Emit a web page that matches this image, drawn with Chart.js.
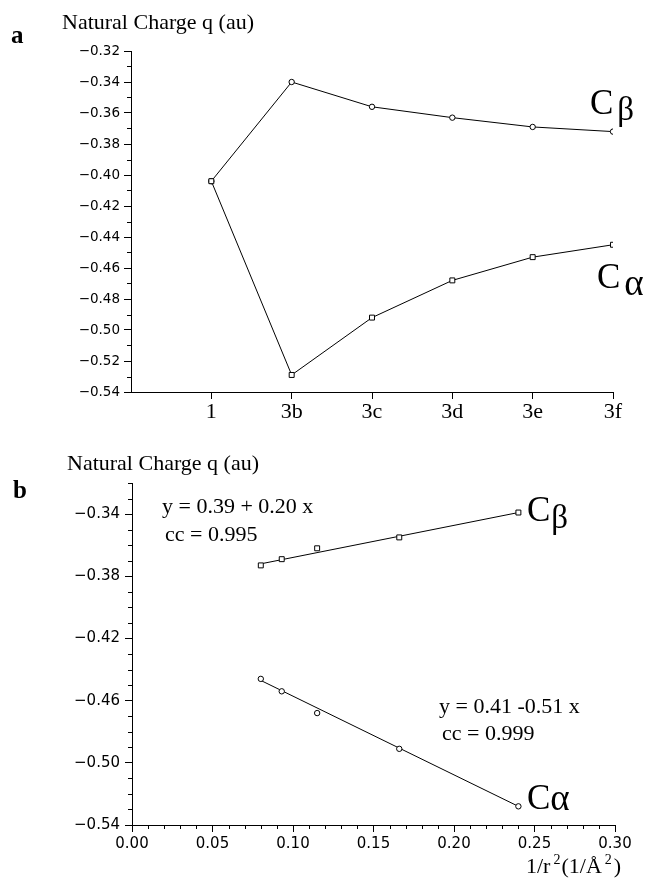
<!DOCTYPE html>
<html>
<head>
<meta charset="utf-8">
<script src="https://cdn.jsdelivr.net/npm/chart.js@4.4.1/dist/chart.umd.min.js"></script>
<style>
  html, body { margin: 0; padding: 0; background: #fff; }
  #wrap { position: relative; width: 647px; height: 882px; }
  canvas { position: absolute; left: 0; }
  #chartA { top: 0; }
  #chartB { top: 430px; }
</style>
</head>
<body>
<div id="wrap">
  <canvas id="chartA" width="647" height="430"></canvas>
  <canvas id="chartB" width="647" height="452"></canvas>
</div>
<script>
// panel a: charge vs compound
const compoundsA = ["1", "3b", "3c", "3d", "3e", "3f"];
const cBetaA = [-0.404, -0.340, -0.356, -0.363, -0.369, -0.372];
const cAlphaA = [-0.404, -0.529, -0.492, -0.468, -0.453, -0.445];

// panel b: charge vs 1/r^2
const invR2B = [0.080, 0.093, 0.115, 0.166, 0.240];
const cBetaB = [-0.373, -0.369, -0.362, -0.355, -0.339];
const cAlphaB = [-0.446, -0.454, -0.468, -0.491, -0.528];
// regression lines (end points)
const fitX = [0.080, 0.240];
const fitBeta = [-0.372, -0.339];
const fitAlpha = [-0.447, -0.528];

const SERIF = "'Liberation Serif', 'Times New Roman', serif";
const SANS = "'DejaVu Sans', Verdana, sans-serif";

const toPts = (xs, ys) => ys.map((y, i) => ({ x: xs[i], y: y }));
const minus = (v, d) => (v < 0 ? "\u2212" : "") + Math.abs(v).toFixed(d);

// short ticks for unlabeled steps
const minorTicks = {
  id: "minorTicks",
  afterDraw(chart, args, opts) {
    const ctx = chart.ctx;
    ctx.save();
    ctx.strokeStyle = "#000";
    ctx.lineWidth = 1;
    ["x", "y"].forEach((id) => {
      const s = chart.scales[id];
      const len = opts[id];
      if (!len) return;
      s.ticks.forEach((t) => {
        if (t.label !== "") return;
        const p = Math.round(s.getPixelForValue(t.value)) + 0.5;
        ctx.beginPath();
        if (id === "y") {
          ctx.moveTo(s.right - len, p);
          ctx.lineTo(s.right, p);
        } else {
          ctx.moveTo(p, s.top);
          ctx.lineTo(p, s.top + len);
        }
        ctx.stroke();
      });
    });
    ctx.restore();
  },
};

// free texts; each item is a list of runs drawn one after another
const texts = {
  id: "texts",
  afterDraw(chart, args, opts) {
    const ctx = chart.ctx;
    ctx.save();
    ctx.fillStyle = "#000";
    ctx.textBaseline = "alphabetic";
    (opts.items || []).forEach((item) => {
      let x = item.x;
      item.runs.forEach((r) => {
        ctx.font = r.font;
        ctx.fillText(r.t, x + (r.dx || 0), item.y + (r.dy || 0));
        x += ctx.measureText(r.t).width + (r.dx || 0);
      });
    });
    ctx.restore();
  },
};

function axisCommon(extra) {
  return Object.assign(
    {
      type: "linear",
      border: { display: true, color: "#000", width: 1 },
      grid: {
        drawOnChartArea: false,
        drawTicks: true,
        tickLength: 7,
        tickWidth: 1,
        tickColor: (c) => (c.tick && c.tick.label !== "" ? "#000" : "rgba(0,0,0,0)"),
      },
    },
    extra
  );
}

const lineDs = (label, data, style, radius) => ({
  label: label,
  data: data,
  showLine: true,
  borderColor: "#000",
  borderWidth: 1,
  pointStyle: style,
  pointRadius: radius,
  pointBorderWidth: 1,
  pointBorderColor: "#000",
  pointBackgroundColor: "#fff",
});

// ---- panel a ----
new Chart(document.getElementById("chartA"), {
  type: "scatter",
  data: {
    datasets: [
      Object.assign(lineDs("C\u03b1", toPts([1, 2, 3, 4, 5, 6], cAlphaA), "rect", 3.5), { order: 0 }),
      Object.assign(lineDs("C\u03b2", toPts([1, 2, 3, 4, 5, 6], cBetaA), "circle", 2.7), { order: 1 }),
    ],
  },
  plugins: [minorTicks, texts],
  options: {
    responsive: false,
    animation: false,
    layout: { padding: { left: 0, top: 51, right: 34, bottom: 0 } },
    scales: {
      x: axisCommon({
        min: 0,
        max: 6,
        afterFit: (s) => { s.height = 38; },
        ticks: {
          stepSize: 1,
          autoSkip: false,
          maxRotation: 0,
          padding: 0,
          color: "#000",
          font: { family: SERIF, size: 22 },
          callback: (v) => (v >= 1 && v <= 6 ? compoundsA[v - 1] : ""),
        },
      }),
      y: axisCommon({
        min: -0.54,
        max: -0.32,
        afterFit: (s) => { s.width = 131; },
        ticks: {
          stepSize: 0.01,
          autoSkip: false,
          padding: 4,
          color: "#000",
          font: { family: SANS, size: 13.5 },
          callback: (v) => (Math.round((v + 0.54) * 100) % 2 === 0 ? minus(v, 2) : ""),
        },
      }),
    },
    plugins: {
      legend: { display: false },
      tooltip: { enabled: false },
      minorTicks: { x: 0, y: 4 },
      texts: {
        items: [
          { x: 62, y: 29, runs: [{ t: "Natural Charge q (au)", font: "22px " + SERIF }] },
          { x: 11, y: 43, runs: [{ t: "a", font: "bold 25px " + SERIF }] },
          { x: 590, y: 114, runs: [{ t: "C", font: "35px " + SERIF }, { t: "\u03b2", font: "33px " + SERIF, dx: 4, dy: 6 }] },
          { x: 597, y: 288, runs: [{ t: "C", font: "35px " + SERIF }, { t: "\u03b1", font: "37px " + SERIF, dx: 4, dy: 7 }] },
        ],
      },
    },
  },
});

// ---- panel b ----
new Chart(document.getElementById("chartB"), {
  type: "scatter",
  data: {
    datasets: [
      Object.assign(lineDs("C\u03b2", toPts(invR2B, cBetaB), "rect", 3.5), { showLine: false }),
      Object.assign(lineDs("C\u03b1", toPts(invR2B, cAlphaB), "circle", 2.7), { showLine: false }),
      lineDs("fit C\u03b2", toPts(fitX, fitBeta), "circle", 0),
      lineDs("fit C\u03b1", toPts(fitX, fitAlpha), "circle", 0),
    ],
  },
  plugins: [minorTicks, texts],
  options: {
    responsive: false,
    animation: false,
    layout: { padding: { left: 0, top: 53, right: 32, bottom: 0 } },
    scales: {
      x: axisCommon({
        min: 0,
        max: 0.3,
        afterFit: (s) => { s.height = 57; },
        ticks: {
          stepSize: 0.01,
          autoSkip: false,
          maxRotation: 0,
          padding: 3,
          color: "#000",
          font: { family: SANS, size: 15 },
          callback: (v) => (Math.round(v * 100) % 5 === 0 ? v.toFixed(2) : ""),
        },
      }),
      y: axisCommon({
        min: -0.54,
        max: -0.32,
        afterFit: (s) => { s.width = 132; },
        ticks: {
          stepSize: 0.01,
          autoSkip: false,
          padding: 5,
          color: "#000",
          font: { family: SANS, size: 15 },
          callback: (v) => (Math.round((v + 0.54) * 100) % 4 === 0 ? minus(v, 2) : ""),
        },
      }),
    },
    plugins: {
      legend: { display: false },
      tooltip: { enabled: false },
      minorTicks: { x: 4, y: 4 },
      texts: {
        items: [
          { x: 67, y: 40, runs: [{ t: "Natural Charge q (au)", font: "22px " + SERIF }] },
          { x: 13, y: 68, runs: [{ t: "b", font: "bold 25px " + SERIF }] },
          { x: 162, y: 83, runs: [{ t: "y = 0.39 + 0.20 x", font: "22px " + SERIF }] },
          { x: 165, y: 111, runs: [{ t: "cc = 0.995", font: "22px " + SERIF }] },
          { x: 527, y: 91, runs: [{ t: "C", font: "35px " + SERIF }, { t: "\u03b2", font: "33px " + SERIF, dx: 1, dy: 7 }] },
          { x: 439, y: 283, runs: [{ t: "y = 0.41 -0.51 x", font: "22px " + SERIF }] },
          { x: 442, y: 310, runs: [{ t: "cc = 0.999", font: "22px " + SERIF }] },
          { x: 527, y: 379, runs: [{ t: "C", font: "35px " + SERIF }, { t: "\u03b1", font: "37px " + SERIF, dx: 0, dy: 1 }] },
          {
            x: 526, y: 443,
            runs: [
              { t: "1/r", font: "22px " + SERIF },
              { t: "2", font: "14px " + SERIF, dx: 3, dy: -9 },
              { t: "(1/\u00c5", font: "22px " + SERIF, dx: 1 },
              { t: "2", font: "14px " + SERIF, dx: 3, dy: -9 },
              { t: ")", font: "22px " + SERIF, dx: 2 },
            ],
          },
        ],
      },
    },
  },
});
</script>
</body>
</html>
